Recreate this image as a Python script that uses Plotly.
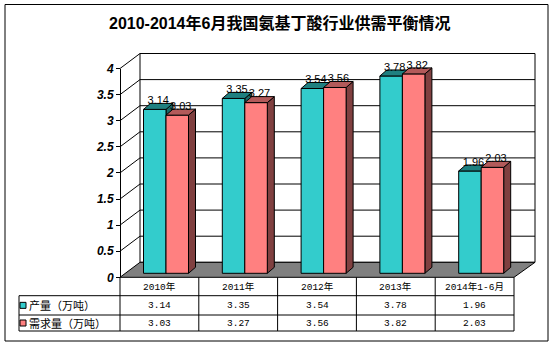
import plotly.graph_objects as go

# ---------------- data ----------------
categories = ["2010年", "2011年", "2012年", "2013年", "2014年1-6月"]
production = [3.14, 3.35, 3.54, 3.78, 1.96]
demand = [3.03, 3.27, 3.56, 3.82, 2.03]
series_names = ["产量（万吨）", "需求量（万吨）"]
title_text = "2010-2014年6月我国氨基丁酸行业供需平衡情况"
y_max = 4
y_step = 0.5

# ---------------- layout geometry (pixels) ----------------
W, H = 552, 346
COL_W = 78.8
COL0_LEFT = 120.0
COL0_C = COL0_LEFT + COL_W / 2
UNIT = 52.2
BAR_BASE = 273.3
FRONT_BASE = 277.3
BACK_BASE = 262.3
BACK_LEFT = 140.0
BACK_RIGHT = 535.0
FRONT_RIGHT = COL0_LEFT + 5 * COL_W
BAR_OFF = 6.6
BAR_W = 22.5
BAR_DX, BAR_DY = 7.0, 6.0
TAB_L = 19.0
ROW_Y = [277.3, 295.7, 315.0, 331.0]

TEAL, TEAL_TOP, TEAL_SIDE = "#33CCCC", "#1F8080", "#196868"
PINK, PINK_TOP, PINK_SIDE = "#FF8080", "#B35A5A", "#804040"
FLOOR = "#808080"


def X(px):
    return (px - COL0_C) / COL_W


def Y(py):
    return (BAR_BASE - py) / UNIT


front_off = Y(FRONT_BASE)
back_off = Y(BACK_BASE)
bw = BAR_W / COL_W
ddx = BAR_DX / COL_W
ddy = BAR_DY / UNIT

fig = go.Figure()


def poly_trace(xs, ys, fill, line="black", width=1):
    fig.add_trace(go.Scatter(x=xs, y=ys, mode="lines", fill="toself",
                             fillcolor=fill, line=dict(color=line, width=width),
                             hoverinfo="skip", showlegend=False))


def line_trace(xs, ys, width=1, color="black"):
    fig.add_trace(go.Scatter(x=xs, y=ys, mode="lines",
                             line=dict(color=color, width=width),
                             hoverinfo="skip", showlegend=False))


nlev = int(round(y_max / y_step))
levels = [k * y_step for k in range(nlev + 1)]
# back wall + gridlines
poly_trace([X(BACK_LEFT), X(BACK_RIGHT), X(BACK_RIGHT), X(BACK_LEFT), X(BACK_LEFT)],
           [back_off, back_off, back_off + y_max, back_off + y_max, back_off], "white")
gx, gy = [], []
for v in levels[1:]:
    gx += [X(BACK_LEFT), X(BACK_RIGHT), None]
    gy += [back_off + v, back_off + v, None]
line_trace(gx, gy)
# left wall diagonals
dx_, dy_ = [], []
for v in levels[1:]:
    dx_ += [X(COL0_LEFT), X(BACK_LEFT), None]
    dy_ += [front_off + v, back_off + v, None]
line_trace(dx_, dy_)
# floor
poly_trace([X(COL0_LEFT), X(FRONT_RIGHT), X(BACK_RIGHT), X(BACK_LEFT), X(COL0_LEFT)],
           [front_off, front_off, back_off, back_off, front_off], FLOOR)


def faces(vals, shift):
    fx, fy, tx, ty, sx, sy = [], [], [], [], [], []
    for i, v in enumerate(vals):
        xc = i + BAR_OFF / COL_W
        x0 = xc + shift * bw
        x1 = x0 + bw
        fx += [x0, x1, x1, x0, x0, None]
        fy += [0, 0, v, v, 0, None]
        tx += [x0, x1, x1 + ddx, x0 + ddx, x0, None]
        ty += [v, v, v + ddy, v + ddy, v, None]
        sx += [x1, x1 + ddx, x1 + ddx, x1, x1, None]
        sy += [0, ddy, v + ddy, v, 0, None]
    return (fx, fy), (tx, ty), (sx, sy)


for vals, shift, cols in [(production, -1, (TEAL, TEAL_TOP, TEAL_SIDE)),
                          (demand, 0, (PINK, PINK_TOP, PINK_SIDE))]:
    f, t, s = faces(vals, shift)
    poly_trace(s[0], s[1], cols[2])
    poly_trace(f[0], f[1], cols[0])
    poly_trace(t[0], t[1], cols[1])

# value labels
for vals, shift in [(production, -1), (demand, 0)]:
    xs = [i + BAR_OFF / COL_W + shift * bw + bw / 2 + ddx / 2 for i in range(len(vals))]
    ys = [v + ddy + 2 / UNIT for v in vals]
    fig.add_trace(go.Scatter(x=xs, y=ys, mode="text", text=[f"{v:.2f}" for v in vals],
                             textposition="middle center", cliponaxis=False,
                             textfont=dict(family="Liberation Sans, Arial", size=11, color="#000000"),
                             hoverinfo="skip", showlegend=False))

# invisible trace carrying the front value axis
fig.add_trace(go.Scatter(x=[X(COL0_LEFT)], y=[0], yaxis="y2", mode="markers",
                         marker=dict(opacity=0), hoverinfo="skip", showlegend=False))

# ---------------- data table ----------------
shapes = []


def seg(x0, y0, x1, y1, w=1):
    shapes.append(dict(type="line", xref="x", yref="y", x0=X(x0), y0=Y(y0),
                       x1=X(x1), y1=Y(y1), line=dict(color="black", width=w)))


for ry in ROW_Y[1:]:
    seg(TAB_L, ry, FRONT_RIGHT, ry)
seg(TAB_L, ROW_Y[1], TAB_L, ROW_Y[3])
for k in range(len(categories) + 1):
    xk = COL0_LEFT + k * COL_W
    seg(xk, ROW_Y[0], xk, ROW_Y[3])

# outer chart border
shapes.append(dict(type="rect", xref="x", yref="y",
                   x0=X(5), x1=X(548), y0=Y(341), y1=Y(4.5),
                   line=dict(color="black", width=1)))

annotations = []
tab_font = dict(family="Liberation Mono, Noto Sans CJK SC", size=9.5, color="#000000")
hy = Y((ROW_Y[0] + ROW_Y[1]) / 2)
r1 = Y((ROW_Y[1] + ROW_Y[2]) / 2)
r2 = Y((ROW_Y[2] + ROW_Y[3]) / 2)
for i, c in enumerate(categories):
    annotations.append(dict(x=i, y=hy, text=c, showarrow=False, font=tab_font,
                            xanchor="center", yanchor="middle"))
    annotations.append(dict(x=i, y=r1, text=f"{production[i]:.2f}", showarrow=False,
                            font=tab_font, xanchor="center", yanchor="middle"))
    annotations.append(dict(x=i, y=r2, text=f"{demand[i]:.2f}", showarrow=False,
                            font=tab_font, xanchor="center", yanchor="middle"))
lab_font = dict(family="Noto Sans CJK SC", size=11, color="#000000")
for name, ry in zip(series_names, [r1, r2]):
    annotations.append(dict(x=X(27), y=ry, text=name, showarrow=False, font=lab_font,
                            xanchor="left", yanchor="middle"))
fig.add_trace(go.Scatter(x=[X(23), X(23)], y=[r1, r2], mode="markers",
                         marker=dict(symbol="square", size=6, color=[TEAL, PINK],
                                     line=dict(color="black", width=1)),
                         hoverinfo="skip", showlegend=False, cliponaxis=False))

# title
annotations.append(dict(x=X(279.5), y=Y(23),
                        text="<b>" + title_text + "</b>", showarrow=False,
                        xanchor="center", yanchor="middle",
                        font=dict(family="Liberation Sans, Noto Sans CJK SC", size=16, color="#000000")))

fig.update_layout(
    width=W, height=H, margin=dict(l=0, r=0, t=0, b=0, autoexpand=False),
    paper_bgcolor="white", plot_bgcolor="rgba(0,0,0,0)",
    xaxis=dict(range=[X(0), X(W)], domain=[0, 1], visible=False, fixedrange=True, automargin=False),
    yaxis=dict(range=[Y(H), Y(0)], domain=[0, 1], visible=False, fixedrange=True, automargin=False),
    yaxis2=dict(anchor="free", position=COL0_LEFT / W, automargin=False,
                domain=[1 - FRONT_BASE / H, 1 - (FRONT_BASE - y_max * UNIT) / H],
                range=[0, y_max], dtick=y_step, tick0=0, showgrid=False, zeroline=False,
                showline=True, linecolor="black", linewidth=1,
                ticks="outside", ticklen=4, tickcolor="black",
                tickfont=dict(family="Liberation Sans, Arial", size=12, color="#000000",
                              weight="bold", style="italic"),
                fixedrange=True),
    shapes=shapes, annotations=annotations, showlegend=False,
)

fig.write_html("out.html")
